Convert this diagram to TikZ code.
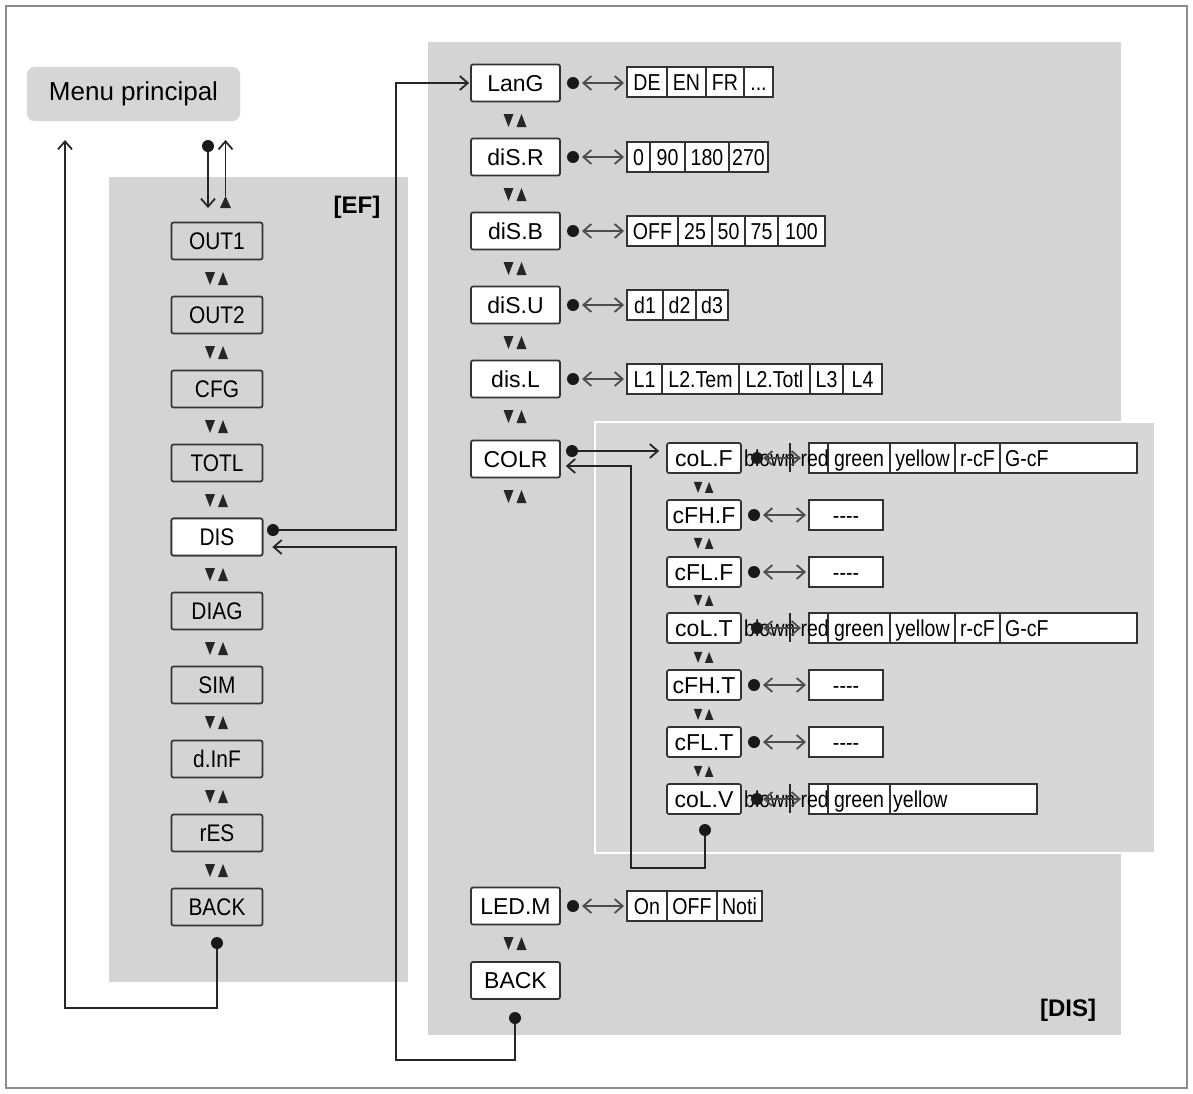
\documentclass[tikz,border=0pt]{standalone}
\usepackage{fontspec}
\setmainfont{Liberation Sans}
\newfontfamily\narrowL[FakeStretch=0.87]{Liberation Sans}
\newfontfamily\narrowO[FakeStretch=0.85]{Liberation Sans}
\usetikzlibrary{arrows.meta}
\definecolor{panel}{RGB}{212,212,212}
\definecolor{subpanel}{RGB}{215,215,215}
\definecolor{framegray}{RGB}{140,140,140}
\definecolor{menugray}{RGB}{214,214,214}
\newcommand\myLfont{\fontsize{24}{24}\selectfont\narrowL}
\newcommand\myRfont{\fontsize{23}{23}\selectfont}
\newcommand\myOfont{\fontsize{23}{23}\selectfont\narrowO}
\newcommand\mydots{{.}{.}{.}}
\tikzset{
 lbox/.style={draw=black!80, line width=1.7pt, rounded corners=2pt, fill=panel, minimum width=91pt, minimum height=37pt, inner sep=0pt, text height=17pt, text depth=0pt, font=\myLfont},
 rbox/.style={lbox, fill=white, minimum width=89pt, text height=16.5pt, font=\myRfont},
 sbox/.style={rbox, minimum width=74pt, minimum height=30pt},
 cell/.style={draw=black!80, line width=1.5pt, fill=white, minimum height=30pt, inner sep=0pt, outer sep=0pt, text height=16.5pt, text depth=0pt, font=\myOfont},
 otext/.style={inner sep=0pt, text height=16.5pt, text depth=0pt, font=\myOfont},
 dot/.style={circle, fill=black!90, inner sep=0pt, minimum size=12pt},
 arr/.style={-{Straight Barb[length=8pt,width=14pt,line width=1.8pt]}, line width=1.5pt, draw=black!85},
 dbl/.style={{Straight Barb[length=8pt,width=14pt,line width=1.8pt]}-{Straight Barb[length=8pt,width=14pt,line width=1.8pt]}, line width=1.5pt, draw=black!70},
 updown/.pic={\fill[black!85] (-12,-6) -- (-2,-6) -- (-7,7) -- cycle; \fill[black!85] (1,7) -- (11,7) -- (6,-6) -- cycle;},
}
\newcommand\optrow[3]{%
 \node[inner sep=0pt, outer sep=0pt, minimum size=0pt] (#1-0) at #2 {};
 \foreach \w/\t [count=\i, remember=\i as \j (initially 0)] in {#3} {
   \node[cell, minimum width=\w pt, anchor=west] (#1-\i) at (#1-\j.east) {\t};
 }}
\begin{document}
\begin{tikzpicture}[x=1pt,y=-1pt]
\useasboundingbox (0,0) rectangle (1193,1093);
\draw[framegray, line width=2pt] (6,6) rectangle (1187,1088);
% panels
\fill[panel] (109,177) rectangle (408,982);
\fill[panel] (428,42) rectangle (1121,1035);
\filldraw[fill=subpanel, draw=white, line width=2pt] (595,422) rectangle (1155,853);
\node[font=\fontsize{24}{24}\selectfont\bfseries] (eflabel) at (357,207) {[EF]};
\node[font=\fontsize{24}{24}\selectfont\bfseries] (dislabel) at (1068,1010) {[DIS]};
% main menu
\node[fill=menugray, draw=black!15, rounded corners=8pt, minimum width=213pt, minimum height=54pt, font=\fontsize{26}{26}\selectfont] (menu) at (133.5,94) {Menu principal};
\node[dot] (mdot) at (208,146) {};
\coordinate (mdown) at (208,208);
\fill[black!85] (220,208) -- (231,208) -- (225.5,196) -- cycle;
\coordinate (uptri) at (225.5,196);
\coordinate (uptop) at (225.5,140);
\coordinate (menuin) at (65,140);
\draw[arr] (mdot) -- (mdown);
\draw[arr] (uptri) -- (uptop);
% left column
\foreach \n/\t/\k in {out1/OUT1/0, out2/OUT2/1, cfg/CFG/2, totl/TOTL/3, dis/DIS/4, diag/DIAG/5, sim/SIM/6, dinf/d.InF/7, res/rES/8, back/BACK/9}{
  \node[lbox] (\n) at (217,241+74*\k) {\t};
}
\node[lbox, fill=white] at (dis) {DIS};
\foreach \k in {0,1,2,3,4,5,6,7,8}{ \pic at (217,278+74*\k) {updown}; }
\node[dot] (bdot) at (217,943) {};
\coordinate (bus3) at (65,1008);
\draw[arr] (bdot) |- (bus3) -- (menuin);
\node[dot] (disdot) at (273,530) {};
% right column
\node[rbox] (lang) at (515.5,83) {LanG};
\node[rbox] (disr) at (515.5,157) {diS.R};
\node[rbox] (disb) at (515.5,231) {diS.B};
\node[rbox] (disu) at (515.5,305) {diS.U};
\node[rbox] (disl) at (515.5,379) {dis.L};
\node[rbox] (colr) at (515.5,459) {COLR};
\node[rbox] (ledm) at (515.5,906) {LED.M};
\node[rbox] (back2) at (515.5,980.5) {BACK};
\foreach \y in {120,194,268,342,416,496,943}{ \pic at (515.5,\y) {updown}; }
\foreach \n/\y in {lang/83, disr/157, disb/231, disu/305, disl/379, ledm/906}{
  \node[dot] (\n dot) at (573,\y) {};
}
\optrow{langO}{(627,82)}{40/DE,39/EN,38/FR,29/\mydots}
\optrow{disrO}{(627,157)}{23/0,35/90,44/180,39/270}
\optrow{disbO}{(627,231)}{51/OFF,34/25,33/50,33/75,47/100}
\optrow{disuO}{(627,305)}{36/d1,33/d2,32/d3}
\optrow{dislO}{(627,379)}{35/L1,77/L2.Tem,71/L2.Totl,33/L3,39/L4}
\optrow{ledmO}{(627,906)}{40/On,50/OFF,45/Noti}
\foreach \n in {lang, disr, disb, disu, disl, ledm}{
  \draw[dbl] ([xshift=9pt]\n dot.center) -- ([xshift=-3pt]\n O-1.west |- \n dot);
}
% sub panel
\node[sbox] (colf) at (704,458) {coL.F};
\node[sbox] (cfhf) at (704,515) {cFH.F};
\node[sbox] (cflf) at (704,572) {cFL.F};
\node[sbox] (colt) at (704,628) {coL.T};
\node[sbox] (cfht) at (704,685) {cFH.T};
\node[sbox] (cflt) at (704,742) {cFL.T};
\node[sbox] (colv) at (704,799) {coL.V};
\foreach \y in {487,543,600,657,714,771}{ \pic[scale=0.85] at (704,\y) {updown}; }
\foreach \n/\y in {cfhf/515, cflf/572, cfht/685, cflt/742}{
  \node[dot] (\n dot) at (754,\y) {};
  \node[cell, minimum width=74pt] (\n O) at (846,\y) {-{}-{}-{}-};
  \draw[dbl] ([xshift=9pt]\n dot.center) -- ([xshift=-3pt]\n O.west |- \n dot);
}
\optrow{colfO}{(809,458)}{19/{},62/green,65/yellow,45/r-cF,137/{}}
\optrow{coltO}{(809,628)}{19/{},62/green,65/yellow,45/r-cF,137/{}}
\optrow{colvO}{(809,799)}{19/{},62/green,147/{}}
\node[otext, anchor=west] at ([xshift=5pt]colfO-5.west) {G-cF};
\node[otext, anchor=west] at ([xshift=5pt]coltO-5.west) {G-cF};
\node[otext, anchor=west] at ([xshift=3pt]colvO-3.west) {yellow};
\foreach \n/\y in {colf/458, colt/628, colv/799}{
  \node[otext, anchor=west] (\n bl) at (744,\y) {blown};
  \node[dot] (\n dot) at (757,\y) {};
  \draw[dbl] ([xshift=6pt]\n dot.center) -- ([xshift=-8pt]\n O-1.west |- \n dot);
  \draw[line width=1.3pt, black!85] (790,\y-15) -- (790,\y+14);
  \node[otext, anchor=east] (\n red) at (829,\y) {red};
}
% connectors
\node[dot] (colrdot) at (572,451) {};
\draw[arr] (colrdot) -- ([xshift=-7pt]colf.west |- colrdot);
\node[dot] (colvdot2) at (705,830) {};
\coordinate (ret2) at (631,868);
\draw[arr] (colvdot2) |- (ret2) |- ([xshift=5pt,yshift=-7pt]colr.east);
\coordinate (bus) at (396,300);
\draw[arr] (disdot) -| (bus) |- ([xshift=-1pt]lang.west);
\node[dot] (back2dot) at (515,1018) {};
\coordinate (bus2) at (396,1060);
\draw[arr] (back2dot) |- (bus2) |- ([xshift=9pt,yshift=-10pt]dis.east);
\end{tikzpicture}
\end{document}
